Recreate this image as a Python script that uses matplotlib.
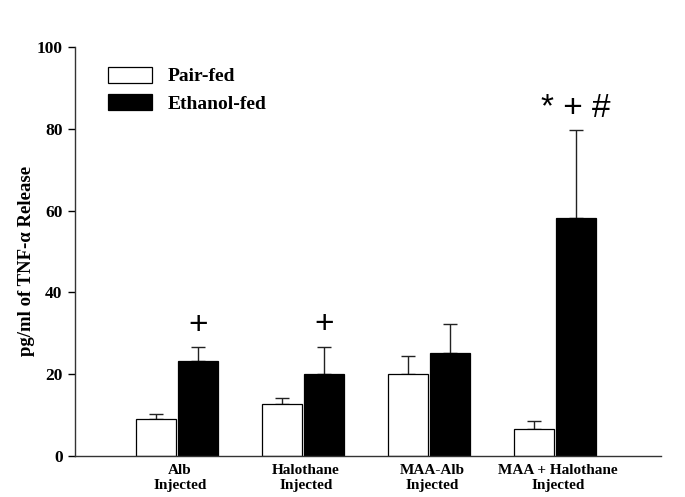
import numpy as np
import matplotlib
matplotlib.use("Agg")
import matplotlib.pyplot as plt
import matplotlib.transforms as mtransforms

# Data
groups = ["Alb\nInjected", "Halothane\nInjected", "MAA-Alb\nInjected", "MAA + Halothane\nInjected"]
pair_fed = [9.0, 12.8, 20.0, 6.5]
pair_fed_err = [1.3, 1.5, 4.5, 2.1]
ethanol_fed = [23.2, 20.0, 25.3, 58.3]
ethanol_fed_err = [3.4, 6.7, 6.9, 21.3]
marks = ["+", "+", "", "* + #"]

serif = ["Liberation Serif", "DejaVu Serif"]

fig = plt.figure(figsize=(6.85, 4.97), dpi=100)
ax = fig.add_axes([0.1095, 0.0825, 0.8555, 0.8229])

x = np.arange(len(groups))
w = 0.317
off = 0.167

ax.bar(x - off, pair_fed, width=w, color="white", edgecolor="black", linewidth=0.9,
       label="Pair-fed", zorder=2)
ax.bar(x + off, ethanol_fed, width=w, color="black", edgecolor="black", linewidth=0.9,
       label="Ethanol-fed", zorder=2)

# upper-only error bars
ax.errorbar(x - off, pair_fed, yerr=[np.zeros(len(x)), pair_fed_err], fmt="none",
            ecolor="#222222", elinewidth=1.0, capsize=5, capthick=1.0, zorder=1)
ax.errorbar(x + off, ethanol_fed, yerr=[np.zeros(len(x)), ethanol_fed_err], fmt="none",
            ecolor="#222222", elinewidth=1.0, capsize=5, capthick=1.0, zorder=1)

# significance marks
for xi, top, err, m in zip(x, ethanol_fed, ethanol_fed_err, marks):
    if m:
        ax.text(xi + off, top + err + 1.6, m, ha="center", va="bottom",
                fontsize=24, family=["Liberation Sans", "DejaVu Sans"])

ax.set_xlim(-0.81, 3.84)
ax.set_ylim(0, 100)
ax.set_yticks([0, 20, 40, 60, 80, 100])
ax.set_xticks(x)
ax.set_xticklabels(groups, fontsize=11, fontweight="bold", family=serif)
ax.tick_params(axis="x", length=0, pad=6)
ax.tick_params(axis="y", length=5, width=1, direction="out", pad=4)
shift = mtransforms.ScaledTranslation(3 / 100, 0, fig.dpi_scale_trans)
for lab in ax.get_xticklabels():
    lab.set_transform(lab.get_transform() + shift)
for lab in ax.get_yticklabels():
    lab.set_fontsize(12.5)
    lab.set_fontweight("bold")
    lab.set_family(serif)

ax.set_ylabel("pg/ml of TNF-\u03b1 Release", fontsize=13.5, fontweight="bold",
              family=serif)
ax.yaxis.set_label_coords(-0.068, 0.477)

ax.spines["top"].set_visible(False)
ax.spines["right"].set_visible(False)
ax.spines["left"].set_linewidth(1.0)
ax.spines["bottom"].set_linewidth(1.0)
ax.spines["left"].set_color("#333333")
ax.spines["bottom"].set_color("#333333")

ax.legend(loc="upper left", bbox_to_anchor=(0.056, 0.952), frameon=False,
          prop={"family": serif, "weight": "bold", "size": 14},
          handlelength=2.27, handleheight=0.88, handletextpad=0.8,
          labelspacing=0.45, borderpad=0, borderaxespad=0)

fig.savefig("out.png", dpi=100)
